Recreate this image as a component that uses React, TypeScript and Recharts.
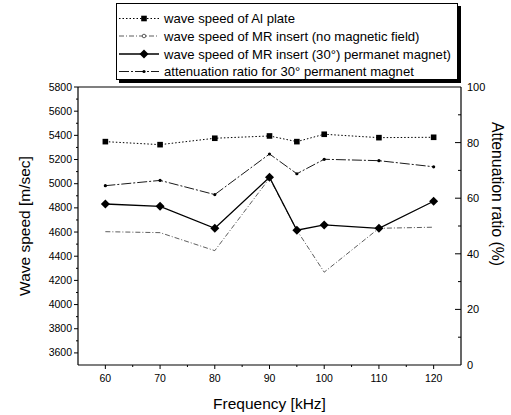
import React from 'react';
import { LineChart, Line, XAxis, YAxis, Legend, ReferenceLine, Label } from 'recharts';

const frequencies = [60, 70, 80, 90, 95, 100, 110, 120];
const alPlate = [5348, 5323, 5376, 5395, 5348, 5409, 5381, 5384];
const noField = [4603, 4595, 4446, 5045, 4615, 4268, 4631, 4640];
const mr30 = [4832, 4813, 4631, 5053, 4615, 4659, 4631, 4855];
const attenuation = [64.5, 66.4, 61.3, 75.9, 68.8, 74.0, 73.5, 71.3];

const xTicks = [55, 60, 65, 70, 75, 80, 85, 90, 95, 100, 105, 110, 115, 120, 125];
const xMajor = [60, 70, 80, 90, 100, 110, 120];
const leftTicks = [3500, 3600, 3700, 3800, 3900, 4000, 4100, 4200, 4300, 4400, 4500, 4600, 4700, 4800, 4900, 5000, 5100, 5200, 5300, 5400, 5500, 5600, 5700, 5800];
const leftMajor = [3600, 3800, 4000, 4200, 4400, 4600, 4800, 5000, 5200, 5400, 5600, 5800];
const rightTicks = [0, 10, 20, 30, 40, 50, 60, 70, 80, 90, 100];
const rightMajor = [0, 20, 40, 60, 80, 100];

const legendLabels = [
  'wave speed of Al plate',
  'wave speed of MR insert (no magnetic field)',
  'wave speed of MR insert (30\u00b0) permanet magnet)',
  'attenuation ratio for 30\u00b0 permanent magnet',
];

const data = frequencies.map((f, i) => ({
  f,
  al: alPlate[i],
  nf: noField[i],
  mr: mr30[i],
  at: attenuation[i],
}));

const FONT = '"Liberation Sans", Arial, Helvetica, sans-serif';

const XTick = (props: any) => {
  const { x, y, payload } = props;
  const v = payload.value;
  if (v === 55 || v === 125) return <g />;
  const major = xMajor.includes(v);
  return (
    <g>
      <line x1={x} x2={x} y1={y} y2={y + (major ? 4 : 2)} stroke="#000" strokeWidth={1} />
      {major && (
        <text x={x} y={y + 17} textAnchor="middle" fontSize={10.5} fontFamily={FONT} fill="#000">
          {v}
        </text>
      )}
    </g>
  );
};

const LeftTick = (props: any) => {
  const { x, y, payload } = props;
  const v = payload.value;
  if (v === 3500) return <g />;
  const major = leftMajor.includes(v);
  return (
    <g>
      <line x1={x} x2={x - (major ? 4 : 2)} y1={y} y2={y} stroke="#000" strokeWidth={1} />
      {major && (
        <text x={x - 6} y={y + 3.5} textAnchor="end" fontSize={10.5} fontFamily={FONT} fill="#000">
          {v}
        </text>
      )}
    </g>
  );
};

const RightTick = (props: any) => {
  const { x, y, payload } = props;
  const v = payload.value;
  const major = rightMajor.includes(v);
  return (
    <g>
      {v !== 0 && v !== 100 && (
        <line x1={x} x2={x - (major ? 6 : 3)} y1={y} y2={y} stroke="#000" strokeWidth={1} />
      )}
      {major && (
        <text x={x + 6} y={y + 4} textAnchor="start" fontSize={11} fontFamily={FONT} fill="#000">
          {v}
        </text>
      )}
    </g>
  );
};

const SquareDot = (props: any) => {
  const { cx, cy, index } = props;
  if (cx == null || cy == null) return <g key={index} />;
  return <rect key={index} x={cx - 2.8} y={cy - 2.8} width={5.6} height={5.6} fill="#000" />;
};

const DiamondDot = (props: any) => {
  const { cx, cy, index } = props;
  if (cx == null || cy == null) return <g key={index} />;
  const s = 4.5;
  return (
    <polygon key={index} points={`${cx},${cy - s} ${cx + s},${cy} ${cx},${cy + s} ${cx - s},${cy}`} fill="#000" />
  );
};

const SmallDot = (props: any) => {
  const { cx, cy, index } = props;
  if (cx == null || cy == null) return <g key={index} />;
  return <circle key={index} cx={cx} cy={cy} r={1.6} fill="#000" />;
};

const LegendBox = () => {
  const rows = [14.5, 32, 50, 67.5];
  return (
    <div
      style={{
        width: 342,
        height: 77,
        border: '1px solid #000',
        boxShadow: '3px 3px 0 #000',
        background: '#fff',
        boxSizing: 'border-box',
      }}
    >
      <svg width={340} height={75} style={{ display: 'block', overflow: 'visible' }}>
        <line x1={2} x2={42} y1={rows[0]} y2={rows[0]} stroke="#000" strokeDasharray="1.5 2" />
        <rect x={24.2} y={rows[0] - 2.8} width={5.6} height={5.6} fill="#000" />
        <line x1={2} x2={42} y1={rows[1]} y2={rows[1]} stroke="#333" strokeWidth={0.8} strokeDasharray="5 2 1 2" />
        <circle cx={27} cy={rows[1]} r={1.8} fill="#fff" stroke="#333" strokeWidth={0.8} />
        <line x1={2} x2={42} y1={rows[2]} y2={rows[2]} stroke="#000" strokeWidth={1.3} />
        <polygon points={`27,${rows[2] - 4.5} 31.5,${rows[2]} 27,${rows[2] + 4.5} 22.5,${rows[2]}`} fill="#000" />
        <line x1={2} x2={42} y1={rows[3]} y2={rows[3]} stroke="#000" strokeWidth={0.9} strokeDasharray="10 2 2 2" />
        <circle cx={27} cy={rows[3]} r={1.6} fill="#000" />
        {legendLabels.map((t, i) => (
          <text key={t} x={47} y={rows[i] + 4.6} fontSize={13.1} fontFamily={FONT} fill="#000">
            {t}
          </text>
        ))}
      </svg>
    </div>
  );
};

const LeftTitle = (props: any) => {
  const vb = props.viewBox || { x: 0, y: 87, width: 78, height: 278 };
  const cx = vb.x + 24;
  const cy = vb.y + vb.height / 2;
  return (
    <text x={cx} y={cy} transform={`rotate(-90 ${cx} ${cy})`} textAnchor="middle" dominantBaseline="central" fontSize={15.5} fontFamily={FONT} fill="#000">
      Wave speed [m/sec]
    </text>
  );
};

const RightTitle = (props: any) => {
  const vb = props.viewBox || { x: 461, y: 87, width: 50, height: 278 };
  const cx = vb.x + 36;
  const cy = vb.y + vb.height / 2 - 32;
  return (
    <text x={cx} y={cy} transform={`rotate(90 ${cx} ${cy})`} textAnchor="middle" dominantBaseline="central" fontSize={15.8} fontFamily={FONT} fill="#000">
      Attenuation ratio (%)
    </text>
  );
};

const BottomTitle = (props: any) => {
  const vb = props.viewBox || { x: 78, y: 365, width: 383, height: 50 };
  const cx = vb.x + vb.width / 2;
  const cy = vb.y + 38;
  return (
    <text x={cx} y={cy} textAnchor="middle" dominantBaseline="central" fontSize={15.5} fontFamily={FONT} fill="#000">
      Frequency [kHz]
    </text>
  );
};

export default function App() {
  return (
    <div style={{ position: 'absolute', left: 0, top: 0, width: 511, height: 415, background: '#fff' }}>
      <LineChart width={511} height={415} data={data} margin={{ top: 87, right: 0, bottom: 0, left: 0 }}>
        <XAxis
          dataKey="f"
          type="number"
          domain={[55, 125]}
          ticks={xTicks}
          interval={0}
          tickSize={0}
          tickMargin={0}
          tickLine={false}
          tick={<XTick />}
          height={50}
          axisLine={{ stroke: '#000', strokeWidth: 1.2 }}
        >
          <Label content={<BottomTitle />} />
        </XAxis>
        <YAxis
          yAxisId="left"
          orientation="left"
          domain={[3500, 5800]}
          ticks={leftTicks}
          interval={0}
          tickSize={0}
          tickMargin={0}
          tickLine={false}
          tick={<LeftTick />}
          width={78}
          axisLine={{ stroke: '#000', strokeWidth: 1.2 }}
          allowDataOverflow
        >
          <Label content={<LeftTitle />} />
        </YAxis>
        <YAxis
          yAxisId="right"
          orientation="right"
          domain={[0, 100]}
          ticks={rightTicks}
          interval={0}
          tickSize={0}
          tickMargin={0}
          tickLine={false}
          tick={<RightTick />}
          width={50}
          axisLine={{ stroke: '#000', strokeWidth: 1.2 }}
        >
          <Label content={<RightTitle />} />
        </YAxis>
        <ReferenceLine yAxisId="left" y={5800} stroke="#000" strokeWidth={1.2} />
        <Legend
          layout="vertical"
          align="center"
          verticalAlign="middle"
          wrapperStyle={{ left: 116, top: 3, width: 345, height: 80 }}
          content={() => <LegendBox />}
        />
        <Line
          yAxisId="right"
          dataKey="at"
          stroke="#000"
          strokeWidth={0.9}
          strokeDasharray="10 2 2 2"
          dot={<SmallDot />}
          activeDot={false}
          isAnimationActive={false}
          legendType="none"
        />
        <Line
          yAxisId="left"
          dataKey="nf"
          stroke="#333"
          strokeWidth={0.8}
          strokeDasharray="5 2 1 2"
          dot={false}
          activeDot={false}
          isAnimationActive={false}
          legendType="none"
        />
        <Line
          yAxisId="left"
          dataKey="mr"
          stroke="#000"
          strokeWidth={1.3}
          dot={<DiamondDot />}
          activeDot={false}
          isAnimationActive={false}
          legendType="none"
        />
        <Line
          yAxisId="left"
          dataKey="al"
          stroke="#000"
          strokeWidth={1}
          strokeDasharray="1.5 2"
          dot={<SquareDot />}
          activeDot={false}
          isAnimationActive={false}
          legendType="none"
        />
      </LineChart>
    </div>
  );
}
